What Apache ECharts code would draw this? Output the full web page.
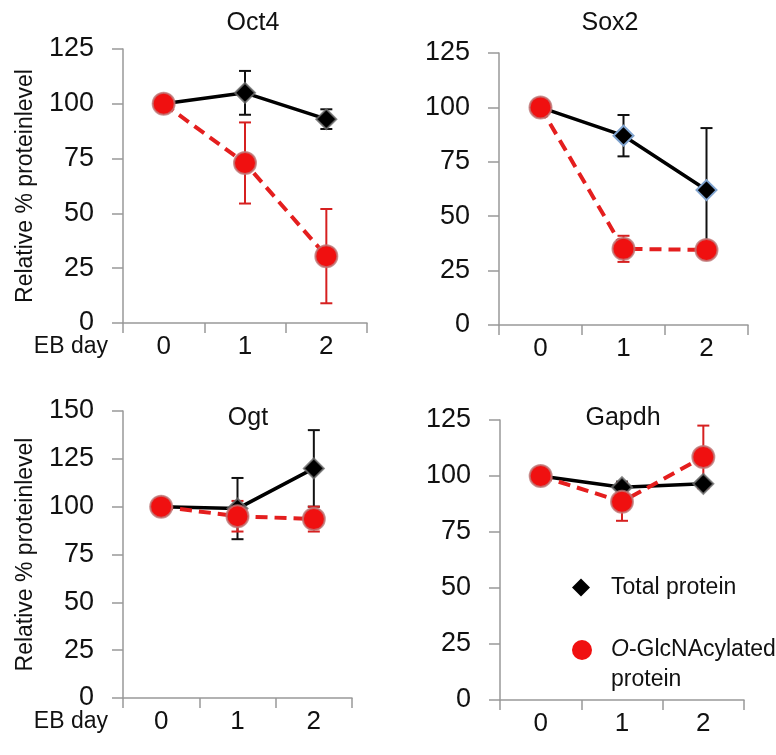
<!DOCTYPE html>
<html>
<head>
<meta charset="utf-8">
<script src="https://cdn.jsdelivr.net/npm/echarts@6/dist/echarts.min.js"></script>
<style>
  html, body { margin: 0; padding: 0; background: #fff; }
  #main { width: 776px; height: 755px; }
</style>
</head>
<body>
<div id="main"></div>
<script>
// EB days on the x axis
const days = ['0', '1', '2'];
const panelTitles = ['Oct4', 'Sox2', 'Ogt', 'Gapdh'];
const yMax = [125, 125, 150, 125];

// total protein (black diamonds), mean and error
const totalOct4 = [100, 105, 93];
const totalOct4Err = [0, 10, 4.5];
const totalSox2 = [100, 87, 62];
const totalSox2Err = [0, 9.5, 28.5];
const totalOgt = [100, 99, 120];
const totalOgtErr = [0, 16, 20];
const totalGapdh = [100, 95, 96.5];
const totalGapdhErr = [0, 2.5, 1.5];

// O-GlcNAcylated protein (red circles), mean and error
const glcOct4 = [100, 73, 30.5];
const glcOct4Err = [0, 18.5, 21.5];
const glcSox2 = [100, 35, 34.5];
const glcSox2Err = [0, 6, 2];
const glcOgt = [100, 95, 93.5];
const glcOgtErr = [0, 8, 6.5];
const glcGapdh = [100, 88.5, 108.5];
const glcGapdhErr = [0, 8.5, 14];

const totals = [totalOct4, totalSox2, totalOgt, totalGapdh];
const totalErrs = [totalOct4Err, totalSox2Err, totalOgtErr, totalGapdhErr];
const glcs = [glcOct4, glcSox2, glcOgt, glcGapdh];
const glcErrs = [glcOct4Err, glcSox2Err, glcOgtErr, glcGapdhErr];

const FONT = '"Liberation Sans", Arial, sans-serif';
const RED = '#f01010';
const RED_LINE = '#e41e1e';

// grid boxes (left, top, width, height)
const grids = [
  { left: 123, top: 49, width: 244, height: 274 },
  { left: 499, top: 53, width: 249, height: 272 },
  { left: 123, top: 411, width: 229, height: 287 },
  { left: 500, top: 420, width: 244, height: 280 }
];
grids.forEach(g => { g.containLabel = false; g.outerBoundsMode = 'none'; });
const titlePos = [[253, 23], [610, 23], [248, 418], [623, 418]];

function errData(vals, errs) {
  const out = [];
  vals.forEach((v, i) => {
    if (errs[i] > 0) out.push([i, v - errs[i], v + errs[i]]);
  });
  return out;
}

function errSeries(idx, vals, errs, color) {
  return {
    type: 'custom',
    xAxisIndex: idx,
    yAxisIndex: idx,
    silent: true,
    renderItem: function (params, api) {
      const lo = api.coord([api.value(0), api.value(1)]);
      const hi = api.coord([api.value(0), api.value(2)]);
      const w = 6;
      const style = { stroke: color, lineWidth: 2 };
      return {
        type: 'group',
        children: [
          { type: 'line', shape: { x1: hi[0], y1: hi[1], x2: lo[0], y2: lo[1] }, style: style },
          { type: 'line', shape: { x1: hi[0] - w, y1: hi[1], x2: hi[0] + w, y2: hi[1] }, style: style },
          { type: 'line', shape: { x1: lo[0] - w, y1: lo[1], x2: lo[0] + w, y2: lo[1] }, style: style }
        ]
      };
    },
    data: errData(vals, errs)
  };
}

const chart = echarts.init(document.getElementById('main'));

const xAxes = [], yAxes = [], series = [], titles = [];
for (let i = 0; i < 4; i++) {
  const leftCol = (i % 2 === 0);
  titles.push({
    text: panelTitles[i],
    left: titlePos[i][0],
    top: titlePos[i][1],
    textAlign: 'center',
    textVerticalAlign: 'middle',
    padding: 0,
    textStyle: { fontFamily: FONT, fontSize: 25, fontWeight: 'normal', color: '#111' }
  });
  xAxes.push({
    gridIndex: i,
    type: 'category',
    data: days,
    boundaryGap: true,
    // empty first line pushes "EB day" down to the tick label row
    name: leftCol ? '\nEB day' : '',
    nameLocation: 'start',
    nameGap: 15,
    nameMoveOverlap: false,
    nameTextStyle: {
      fontFamily: FONT, fontSize: 23, color: '#111', lineHeight: 48
    },
    axisLine: { lineStyle: { color: '#999', width: 1.5 } },
    axisTick: { show: true, length: 10, lineStyle: { color: '#999', width: 1.5 } },
    axisLabel: { fontFamily: FONT, fontSize: 26, color: '#111', margin: 11 }
  });
  yAxes.push({
    gridIndex: i,
    type: 'value',
    min: 0,
    max: yMax[i],
    interval: 25,
    name: leftCol ? 'Relative % proteinlevel' : '',
    nameLocation: 'middle',
    nameGap: 86,
    nameMoveOverlap: false,
    nameTextStyle: { fontFamily: FONT, fontSize: 23, color: '#111' },
    axisLine: { show: true, lineStyle: { color: '#999', width: 1.5 } },
    axisTick: { show: true, length: 11, lineStyle: { color: '#999', width: 1.5 } },
    splitLine: { show: false },
    axisLabel: { fontFamily: FONT, fontSize: 27, color: '#111', margin: 29 }
  });

  series.push(errSeries(i, totals[i], totalErrs[i], '#111'));
  series.push({
    name: 'Total protein',
    type: 'line',
    xAxisIndex: i,
    yAxisIndex: i,
    data: totals[i],
    symbol: 'diamond',
    symbolSize: 20,
    lineStyle: { color: '#000', width: 3.5 },
    itemStyle: {
      color: '#000',
      borderColor: i === 1 ? '#7fa3cf' : 'rgba(110,110,110,0.8)',
      borderWidth: 2
    },
    emphasis: { disabled: true }
  });
  series.push(errSeries(i, glcs[i], glcErrs[i], '#d62020'));
  series.push({
    name: 'O-GlcNAcylated protein',
    type: 'line',
    xAxisIndex: i,
    yAxisIndex: i,
    data: glcs[i],
    symbol: 'circle',
    symbolSize: 22,
    lineStyle: { color: RED_LINE, width: 4, type: [12, 7] },
    itemStyle: { color: RED, borderColor: 'rgba(190,120,120,0.8)', borderWidth: 2 },
    emphasis: { disabled: true }
  });
}

const option = {
  animation: false,
  title: titles,
  grid: grids,
  xAxis: xAxes,
  yAxis: yAxes,
  legend: [
    {
      data: [{ name: 'Total protein', icon: 'diamond', itemStyle: { color: '#000', borderWidth: 0 } }],
      left: 572,
      top: 576,
      padding: 0,
      itemWidth: 18,
      itemHeight: 18,
      selectedMode: false,
      textStyle: { fontFamily: FONT, fontSize: 23, color: '#111', padding: [0, 0, 0, 16] }
    },
    {
      data: [{ name: 'O-GlcNAcylated protein', icon: 'circle', itemStyle: { color: RED, borderWidth: 0 } }],
      left: 572,
      top: 605,
      padding: 0,
      itemWidth: 20,
      itemHeight: 20,
      selectedMode: false,
      formatter: function () { return '{it|O}-GlcNAcylated\nprotein'; },
      textStyle: {
        fontFamily: FONT, fontSize: 23, color: '#111', lineHeight: 30,
        padding: [30, 0, 0, 14],
        rich: { it: { fontStyle: 'italic', fontFamily: FONT, fontSize: 23, lineHeight: 30, color: '#111' } }
      }
    }
  ],
  series: series
};

chart.setOption(option);
</script>
</body>
</html>
